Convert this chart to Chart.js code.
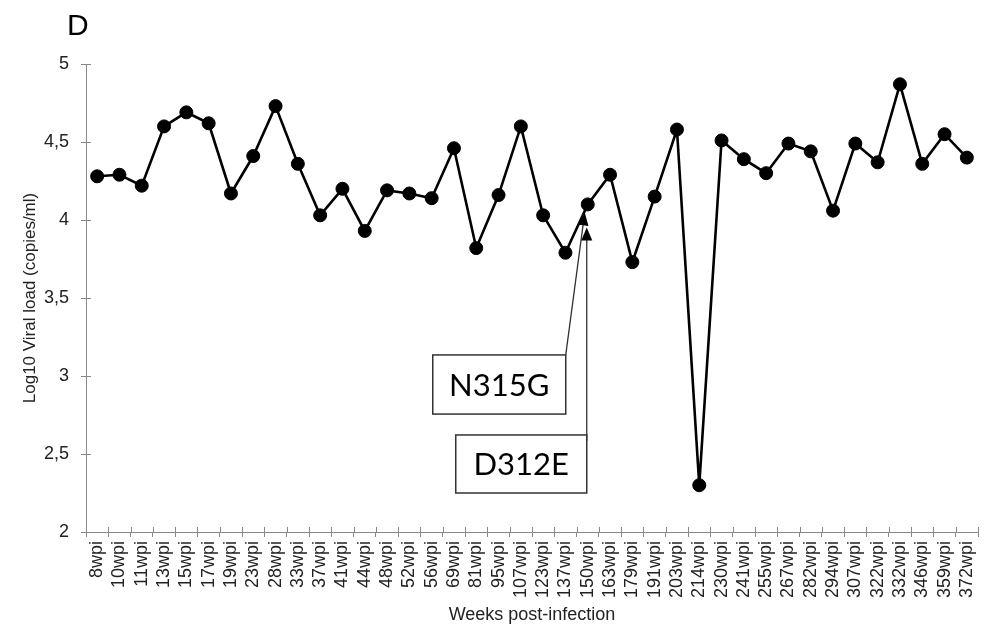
<!DOCTYPE html>
<html>
<head>
<meta charset="utf-8">
<script src="https://cdn.jsdelivr.net/npm/chart.js@4"></script>
<style>
  html, body { margin: 0; padding: 0; background: #fff; }
  #wrap { width: 988px; height: 630px; position: relative; }
</style>
</head>
<body>
<div id="wrap"><canvas id="c" width="988" height="630"></canvas></div>
<script>
const categories = ["8wpi","10wpi","11wpi","13wpi","15wpi","17wpi","19wpi","23wpi","28wpi","33wpi",
  "37wpi","41wpi","44wpi","48wpi","52wpi","56wpi","69wpi","81wpi","95wpi","107wpi",
  "123wpi","137wpi","150wpi","163wpi","179wpi","191wpi","203wpi","214wpi","230wpi","241wpi",
  "255wpi","267wpi","282wpi","294wpi","307wpi","322wpi","332wpi","346wpi","359wpi","372wpi"];
const viralLoad = [4.28,4.29,4.22,4.60,4.69,4.62,4.17,4.41,4.73,4.36,
  4.03,4.20,3.93,4.19,4.17,4.14,4.46,3.82,4.16,4.60,
  4.03,3.79,4.10,4.29,3.73,4.15,4.58,2.30,4.51,4.39,
  4.30,4.49,4.44,4.06,4.49,4.37,4.87,4.36,4.55,4.40];
const yTicks = [2, 2.5, 3, 3.5, 4, 4.5, 5];
const annotations = [
  { label: "N315G", target: "150wpi" },
  { label: "D312E", target: "150wpi" }
];

const AXIS = "#888888";
const TXT = "#222222";

const extrasPlugin = {
  id: "extras",
  afterDraw(chart) {
    const ctx = chart.ctx;
    const xs = chart.scales.x, ys = chart.scales.y;
    const ca = chart.chartArea;
    ctx.save();
    ctx.fillStyle = "#000";
    ctx.font = "30px 'Liberation Sans', Arial, sans-serif";
    ctx.textAlign = "left";
    ctx.textBaseline = "alphabetic";
    ctx.fillText("D", 67, 35);
    ctx.strokeStyle = AXIS;
    ctx.lineWidth = 1;
    const step = xs.getPixelForValue(1) - xs.getPixelForValue(0);
    for (let i = 0; i <= categories.length; i++) {
      const x = Math.round(xs.getPixelForValue(0) - step / 2 + i * step) + 0.5;
      ctx.beginPath(); ctx.moveTo(x, ca.bottom); ctx.lineTo(x, ca.bottom - 5); ctx.stroke();
    }
    yTicks.forEach(v => {
      const y = Math.round(ys.getPixelForValue(v)) + 0.5;
      ctx.beginPath(); ctx.moveTo(ca.left, y); ctx.lineTo(ca.left + 5, y); ctx.stroke();
    });
    const idx = categories.indexOf(annotations[0].target);
    const px = xs.getPixelForValue(idx);
    const py = ys.getPixelForValue(viralLoad[idx]);
    const drawHead = (tx, ty, ang) => {
      const L = 13, W = 5.5;
      ctx.beginPath();
      ctx.moveTo(tx, ty);
      ctx.lineTo(tx - L * Math.cos(ang) + W * Math.sin(ang), ty - L * Math.sin(ang) - W * Math.cos(ang));
      ctx.lineTo(tx - L * Math.cos(ang) - W * Math.sin(ang), ty - L * Math.sin(ang) + W * Math.cos(ang));
      ctx.closePath();
      ctx.fill();
    };
    const boxes = [
      { x0: px - 155, x1: px - 22, y0: ys.getPixelForValue(3.135), y1: ys.getPixelForValue(2.756) },
      { x0: px - 132, x1: px - 1,  y0: ys.getPixelForValue(2.622), y1: ys.getPixelForValue(2.25) }
    ];
    const tips = [ { x: px - 3, y: py + 8 }, { x: px - 1, y: py + 23 } ];
    ctx.strokeStyle = "#333";
    ctx.fillStyle = "#000";
    ctx.lineWidth = 1.3;
    {
      const b = boxes[0], t = tips[0];
      const sx = b.x1, sy = b.y0;
      const ang = Math.atan2(t.y - sy, t.x - sx);
      ctx.beginPath(); ctx.moveTo(sx, sy); ctx.lineTo(t.x - 10 * Math.cos(ang), t.y - 10 * Math.sin(ang)); ctx.stroke();
      drawHead(t.x, t.y, ang);
    }
    {
      const b = boxes[1], t = tips[1];
      const sx = b.x1, sy = b.y0 + 6;
      const ang = Math.atan2(t.y - sy, t.x - sx);
      ctx.beginPath(); ctx.moveTo(sx, sy); ctx.lineTo(t.x, t.y + 10); ctx.stroke();
      drawHead(t.x, t.y, ang);
    }
    boxes.forEach((b, i) => {
      ctx.fillStyle = "#fff";
      ctx.fillRect(b.x0, b.y0, b.x1 - b.x0, b.y1 - b.y0);
      ctx.strokeStyle = "#333";
      ctx.lineWidth = 1.5;
      ctx.strokeRect(b.x0, b.y0, b.x1 - b.x0, b.y1 - b.y0);
      ctx.fillStyle = "#000";
      ctx.font = "31px Lato, 'Open Sans', sans-serif";
      ctx.textAlign = "center";
      ctx.textBaseline = "middle";
      ctx.fillText(annotations[i].label, (b.x0 + b.x1) / 2, (b.y0 + b.y1) / 2 + 1);
    });
    ctx.restore();
  }
};

new Chart(document.getElementById("c"), {
  type: "line",
  data: {
    labels: categories,
    datasets: [{
      data: viralLoad,
      borderColor: "#000",
      backgroundColor: "#000",
      borderWidth: 2.6,
      pointRadius: 6.5,
      pointBorderWidth: 1,
      pointBackgroundColor: "#000",
      pointBorderColor: "#000",
      tension: 0,
      fill: false
    }]
  },
  options: {
    responsive: false,
    animation: false,
    events: [],
    layout: { padding: { left: 0, right: 10, top: 64, bottom: 2 } },
    plugins: { legend: { display: false }, tooltip: { enabled: false }, title: { display: false } },
    scales: {
      x: {
        type: "category",
        offset: true,
        grid: { offset: true, drawOnChartArea: false, drawTicks: true, tickLength: 5, color: AXIS },
        border: { display: true, color: AXIS, width: 1 },
        ticks: {
          autoSkip: false, minRotation: 90, maxRotation: 90, padding: 4,
          color: TXT, font: { family: "'Liberation Sans', Arial, sans-serif", size: 18 }
        },
        title: {
          display: true, text: "Weeks post-infection", color: TXT,
          font: { family: "'Liberation Sans', Arial, sans-serif", size: 18 },
          padding: { top: 0, bottom: 2 }
        },
        afterFit(scale) { scale.height = 96; scale.paddingLeft = 0; scale.paddingRight = 0; }
      },
      y: {
        min: 2, max: 5,
        afterBuildTicks(scale) { scale.ticks = yTicks.map(v => ({ value: v })); },
        grid: { drawOnChartArea: false, drawTicks: true, tickLength: 5, color: AXIS },
        border: { display: true, color: AXIS, width: 1 },
        ticks: {
          padding: 12, color: TXT,
          font: { family: "'Liberation Sans', Arial, sans-serif", size: 18 },
          callback: v => String(v).replace(".", ",")
        },
        title: {
          display: true, text: "Log10 Viral load (copies/ml)", color: TXT,
          font: { family: "'Liberation Sans', Arial, sans-serif", size: 17 },
          padding: { top: 20, bottom: 0 }
        },
        afterFit(scale) { scale.width = 86; scale.paddingTop = 0; scale.paddingBottom = 0; }
      }
    }
  },
  plugins: [extrasPlugin]
});
</script>
</body>
</html>
